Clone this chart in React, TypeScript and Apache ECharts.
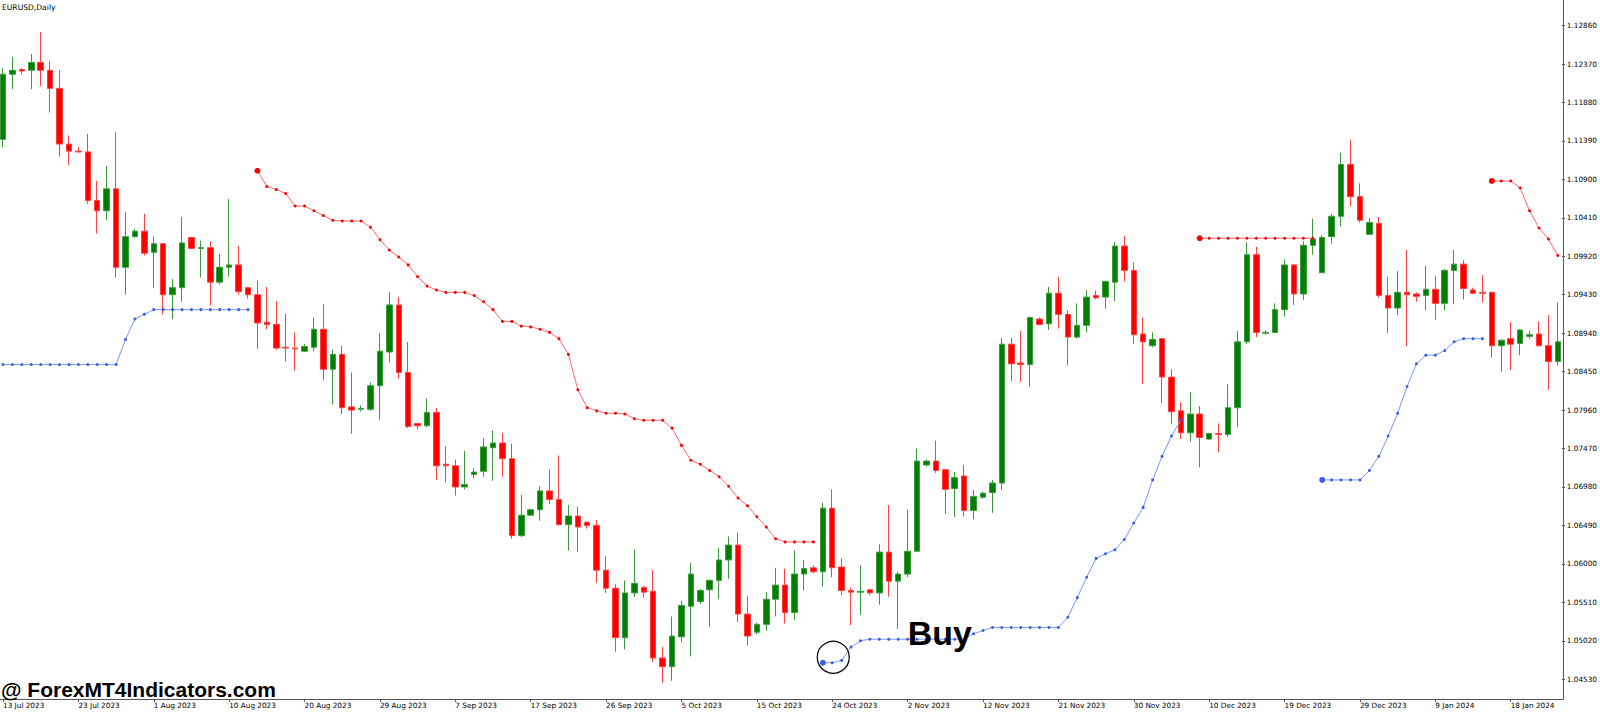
import React, { useEffect, useRef } from "react";
import * as echarts from "echarts";

// ---- x axis: one label every 8 daily bars ----
const dateLabels = [
  "13 Jul 2023", "23 Jul 2023", "1 Aug 2023", "10 Aug 2023", "20 Aug 2023", "29 Aug 2023",
  "7 Sep 2023", "17 Sep 2023", "26 Sep 2023", "5 Oct 2023", "15 Oct 2023", "24 Oct 2023",
  "2 Nov 2023", "12 Nov 2023", "21 Nov 2023", "30 Nov 2023", "10 Dec 2023", "19 Dec 2023",
  "29 Dec 2023", "9 Jan 2024", "18 Jan 2024",
];
const barsPerLabel = 8;

// ---- y axis tick labels ----
const priceTicks = [
  1.0453, 1.0502, 1.0551, 1.06, 1.0649, 1.0698, 1.0747, 1.0796, 1.0845,
  1.0894, 1.0943, 1.0992, 1.1041, 1.109, 1.1139, 1.1188, 1.1237, 1.1286,
];
const priceMin = 1.04278;
const priceMax = 1.13186;

// ---- EURUSD daily candles ----
const opens = [
  1.1141, 1.1224, 1.1230, 1.1229, 1.1239, 1.1229, 1.1206, 1.1135, 1.1126, 1.1125,
  1.1063, 1.1050, 1.1078, 1.0978, 1.1017, 1.1024, 1.0997, 1.1008, 1.0943, 1.0952,
  1.1016, 1.1002, 1.1003, 1.0959, 1.0978, 1.0981, 1.0952, 1.0943, 1.0908, 1.0905,
  1.0876, 1.0875, 1.0871, 1.0876, 1.0899, 1.0848, 1.0867, 1.0800, 1.0797, 1.0797,
  1.0827, 1.0870, 1.0930, 1.0844, 1.0779, 1.0776, 1.0793, 1.0727, 1.0725, 1.0698,
  1.0714, 1.0718, 1.0748, 1.0754, 1.0734, 1.0636, 1.0662, 1.0669, 1.0693, 1.0682,
  1.0650, 1.0661, 1.0653, 1.0649, 1.0592, 1.0569, 1.0506, 1.0563, 1.0570, 1.0565,
  1.0480, 1.0469, 1.0507, 1.0546, 1.0552, 1.0567, 1.0579, 1.0605, 1.0624, 1.0536,
  1.0513, 1.0523, 1.0555, 1.0573, 1.0538, 1.0587, 1.0595, 1.0590, 1.0671, 1.0596,
  1.0566, 1.0564, 1.0567, 1.0563, 1.0615, 1.0578, 1.0587, 1.0616, 1.0726, 1.0731,
  1.0720, 1.0696, 1.0712, 1.0668, 1.0685, 1.0691, 1.0703, 1.0880, 1.0856, 1.0854,
  1.0912, 1.0906, 1.0945, 1.0918, 1.0889, 1.0904, 1.0942, 1.0940, 1.0959, 1.1005,
  1.0974, 1.0893, 1.0878, 1.0887, 1.0838, 1.0795, 1.0767, 1.0791, 1.0759, 1.0766,
  1.0765, 1.0799, 1.0883, 1.0994, 1.0894, 1.0895, 1.0924, 1.0981, 1.0944, 1.1006,
  1.0971, 1.1017, 1.1043, 1.1109, 1.1068, 1.1020, 1.1034, 1.0942, 1.0926, 1.0946,
  1.0944, 1.0942, 1.0950, 1.0932, 1.0974, 1.0982, 1.0949, 1.0946, 1.0946, 1.0878,
  1.0887, 1.0881, 1.0890, 1.0893, 1.0878, 1.0858,
];
const closes = [
  1.1224, 1.1229, 1.1228, 1.1239, 1.1229, 1.1206, 1.1135, 1.1126, 1.1125, 1.1063,
  1.1050, 1.1078, 1.0978, 1.1017, 1.1024, 1.0996, 1.1008, 1.0943, 1.0952, 1.1009,
  1.1002, 1.1003, 1.0959, 1.0978, 1.0981, 1.0947, 1.0943, 1.0907, 1.0905, 1.0875,
  1.0875, 1.0874, 1.0877, 1.0899, 1.0848, 1.0867, 1.0799, 1.0796, 1.0798, 1.0827,
  1.0871, 1.0930, 1.0844, 1.0775, 1.0776, 1.0793, 1.0725, 1.0725, 1.0698, 1.0701,
  1.0717, 1.0749, 1.0754, 1.0734, 1.0636, 1.0662, 1.0669, 1.0693, 1.0682, 1.0650,
  1.0661, 1.0647, 1.0649, 1.0592, 1.0569, 1.0506, 1.0563, 1.0575, 1.0564, 1.0480,
  1.0469, 1.0508, 1.0547, 1.0587, 1.0566, 1.0579, 1.0605, 1.0624, 1.0536, 1.0508,
  1.0523, 1.0555, 1.0573, 1.0538, 1.0587, 1.0594, 1.0590, 1.0671, 1.0595, 1.0566,
  1.0564, 1.0565, 1.0563, 1.0615, 1.0578, 1.0587, 1.0616, 1.0731, 1.0731, 1.0719,
  1.0695, 1.0710, 1.0668, 1.0686, 1.0690, 1.0703, 1.0880, 1.0855, 1.0854, 1.0914,
  1.0905, 1.0945, 1.0918, 1.0889, 1.0904, 1.0940, 1.0939, 1.0960, 1.1005, 1.0974,
  1.0892, 1.0883, 1.0886, 1.0838, 1.0794, 1.0767, 1.0791, 1.0761, 1.0766, 1.0765,
  1.0799, 1.0883, 1.0994, 1.0895, 1.0895, 1.0924, 1.0981, 1.0944, 1.1006, 1.1014,
  1.1016, 1.1043, 1.1109, 1.1068, 1.1038, 1.1035, 1.0942, 1.0926, 1.0946, 1.0943,
  1.0941, 1.0950, 1.0932, 1.0974, 1.0982, 1.0951, 1.0945, 1.0945, 1.0878, 1.0885,
  1.0880, 1.0898, 1.0892, 1.0878, 1.0858, 1.0883,
];
const lows = [
  1.1131, 1.1205, 1.1224, 1.1205, 1.1209, 1.1175, 1.1119, 1.1108, 1.1124, 1.1059,
  1.1021, 1.1038, 1.0965, 1.0943, 1.1016, 1.0993, 1.0952, 1.0918, 1.0912, 1.0934,
  1.1001, 1.0965, 1.0929, 1.0956, 1.0966, 1.0943, 1.0938, 1.0874, 1.0899, 1.0873,
  1.0858, 1.0846, 1.0870, 1.0871, 1.0834, 1.0803, 1.0791, 1.0766, 1.0794, 1.0795,
  1.0783, 1.0857, 1.0836, 1.0773, 1.0772, 1.0774, 1.0707, 1.0704, 1.0687, 1.0695,
  1.0709, 1.0711, 1.0706, 1.0711, 1.0632, 1.0634, 1.0662, 1.0655, 1.0676, 1.0649,
  1.0617, 1.0615, 1.0645, 1.0576, 1.0563, 1.0488, 1.0491, 1.0558, 1.0557, 1.0475,
  1.0448, 1.0451, 1.0500, 1.0482, 1.0549, 1.0520, 1.0555, 1.0581, 1.0526, 1.0496,
  1.0510, 1.0515, 1.0533, 1.0524, 1.0529, 1.0566, 1.0588, 1.0571, 1.0583, 1.0560,
  1.0522, 1.0535, 1.0560, 1.0548, 1.0558, 1.0517, 1.0583, 1.0615, 1.0724, 1.0716,
  1.0664, 1.0660, 1.0660, 1.0657, 1.0683, 1.0665, 1.0694, 1.0833, 1.0832, 1.0826,
  1.0904, 1.0898, 1.0900, 1.0853, 1.0887, 1.0895, 1.0937, 1.0925, 1.0935, 1.0960,
  1.0880, 1.0829, 1.0876, 1.0805, 1.0778, 1.0759, 1.0756, 1.0723, 1.0758, 1.0742,
  1.0762, 1.0774, 1.0880, 1.0889, 1.0892, 1.0894, 1.0915, 1.0930, 1.0936, 1.0994,
  1.0971, 1.1008, 1.1030, 1.1056, 1.1035, 1.1020, 1.0939, 1.0894, 1.0917, 1.0877,
  1.0934, 1.0923, 1.0911, 1.0923, 1.0931, 1.0937, 1.0944, 1.0933, 1.0863, 1.0845,
  1.0847, 1.0866, 1.0887, 1.0877, 1.0822, 1.0853,
];
const highs = [
  1.1232, 1.1246, 1.1232, 1.1250, 1.1278, 1.1241, 1.1229, 1.1146, 1.1131, 1.1148,
  1.1088, 1.1107, 1.1150, 1.1048, 1.1027, 1.1046, 1.1017, 1.1009, 1.0963, 1.1042,
  1.1016, 1.1012, 1.1011, 1.0995, 1.1065, 1.1005, 1.0953, 1.0961, 1.0953, 1.0935,
  1.0919, 1.0895, 1.0880, 1.0914, 1.0931, 1.0873, 1.0878, 1.0844, 1.0802, 1.0831,
  1.0894, 1.0946, 1.0940, 1.0883, 1.0779, 1.0811, 1.0799, 1.0750, 1.0733, 1.0744,
  1.0722, 1.0760, 1.0770, 1.0767, 1.0753, 1.0688, 1.0670, 1.0699, 1.0720, 1.0738,
  1.0675, 1.0673, 1.0654, 1.0656, 1.0610, 1.0574, 1.0579, 1.0618, 1.0572, 1.0592,
  1.0494, 1.0533, 1.0553, 1.0601, 1.0568, 1.0580, 1.0620, 1.0635, 1.0640, 1.0559,
  1.0525, 1.0564, 1.0595, 1.0594, 1.0617, 1.0605, 1.0598, 1.0678, 1.0695, 1.0607,
  1.0570, 1.0598, 1.0568, 1.0625, 1.0675, 1.0590, 1.0669, 1.0747, 1.0733, 1.0757,
  1.0720, 1.0717, 1.0726, 1.0694, 1.0692, 1.0707, 1.0888, 1.0888, 1.0897, 1.0915,
  1.0914, 1.0953, 1.0966, 1.0923, 1.0932, 1.0949, 1.0948, 1.0961, 1.1010, 1.1018,
  1.0984, 1.0914, 1.0895, 1.0888, 1.0848, 1.0806, 1.0819, 1.0801, 1.0767, 1.0779,
  1.0829, 1.0897, 1.1010, 1.1004, 1.0898, 1.0932, 1.0988, 1.0982, 1.1011, 1.1040,
  1.1019, 1.1046, 1.1124, 1.1140, 1.1085, 1.1041, 1.1042, 1.0966, 1.0973, 1.1000,
  1.0946, 1.0980, 1.0967, 1.0976, 1.1000, 1.0987, 1.0952, 1.0968, 1.0947, 1.0886,
  1.0908, 1.0899, 1.0897, 1.0909, 1.0917, 1.0933,
];

// ---- trend indicator: red (down) and blue (up) segments ----
const redStart1 = 27;
const redBand1 = [
  1.1101, 1.1081, 1.1077, 1.1072, 1.1056, 1.1056, 1.1050, 1.1044, 1.1038, 1.1037,
  1.1037, 1.1037, 1.1029, 1.1013, 1.1000, 1.0991, 1.0981, 1.0966, 1.0954, 1.0949,
  1.0946, 1.0946, 1.0946, 1.0942, 1.0934, 1.0924, 1.0909, 1.0909, 1.0903, 1.0902,
  1.0899, 1.0895, 1.0887, 1.0867, 1.0822, 1.0799, 1.0795, 1.0792, 1.0792, 1.0791,
  1.0785, 1.0783, 1.0783, 1.0783, 1.0773, 1.0751, 1.0732, 1.0727, 1.0719, 1.0711,
  1.0699, 1.0684, 1.0674, 1.0660, 1.0647, 1.0632, 1.0628, 1.0628, 1.0628, 1.0628,
];
const redStart2 = 127;
const redBand2 = [
  1.1015, 1.1015, 1.1015, 1.1015, 1.1015, 1.1015, 1.1015, 1.1015, 1.1015, 1.1015,
  1.1015, 1.1015, 1.1015,
];
const redStart3 = 158;
const redBand3 = [1.1088, 1.1088, 1.1088, 1.1079, 1.1050, 1.1028, 1.1014, 1.0993];

// the first blue segment began before the visible window, so it has no start marker
const blueStart1 = 0;
const blueBand1 = [
  1.0854, 1.0854, 1.0854, 1.0854, 1.0854, 1.0854, 1.0854, 1.0854, 1.0854, 1.0854,
  1.0854, 1.0854, 1.0854, 1.0886, 1.0912, 1.0918, 1.0924, 1.0924, 1.0924, 1.0924,
  1.0924, 1.0924, 1.0924, 1.0924, 1.0924, 1.0924, 1.0924,
];
const blueStart2 = 87;
const blueBand2 = [
  1.0474, 1.0474, 1.0477, 1.0494, 1.0502, 1.0504, 1.0504, 1.0504, 1.0504, 1.0504,
  1.0504, 1.0504, 1.0504, 1.0504, 1.0504, 1.0504, 1.0511, 1.0515, 1.0519, 1.0519,
  1.0519, 1.0519, 1.0519, 1.0519, 1.0519, 1.0519, 1.0532, 1.0557, 1.0583, 1.0607,
  1.0613, 1.0618, 1.0631, 1.0652, 1.0672, 1.0707, 1.0737, 1.0763, 1.0783,
];
const blueStart3 = 140;
const blueBand3 = [
  1.0707, 1.0707, 1.0707, 1.0707, 1.0707, 1.0719, 1.0737, 1.0763, 1.0792, 1.0826,
  1.0855, 1.0866, 1.0866, 1.0872, 1.0883, 1.0887, 1.0887, 1.0887,
];

// annotation anchors (bar index, price)
const buySignalCircle = [88, 1.0481];
const buyTextAnchor = [96, 1.0512];

const AXIS_FONT = '"DejaVu Sans", Tahoma, sans-serif';

function buildLine(total: number, parts: [number, number[]][]) {
  const arr: (number | null)[] = new Array(total).fill(null);
  const starts = new Set<number>();
  parts.forEach(([start, vals]) => {
    if (start > 0) starts.add(start);
    vals.forEach((v, k) => {
      arr[start + k] = v;
    });
  });
  return { arr, starts };
}

export default function App() {
  const ref = useRef<HTMLDivElement>(null);

  useEffect(() => {
    document.body.style.margin = "0";
    document.body.style.overflow = "hidden";
    const el = ref.current!;
    const chart = echarts.init(el, null, { renderer: "svg" });

    const n = opens.length;
    const categories = opens.map((_, i) => String(i));
    const candles = opens.map((o, i) => [o, closes[i], lows[i], highs[i]]);
    const red = buildLine(n, [
      [redStart1, redBand1],
      [redStart2, redBand2],
      [redStart3, redBand3],
    ]);
    const blue = buildLine(n, [
      [blueStart1, blueBand1],
      [blueStart2, blueBand2],
      [blueStart3, blueBand3],
    ]);

    const gridW = 1559;
    const gridH = 699;

    chart.setOption({
      animation: false,
      backgroundColor: "#ffffff",
      grid: { left: 0, top: 0, width: gridW, height: gridH, containLabel: false },
      xAxis: {
        type: "category",
        data: categories,
        boundaryGap: false,
        axisLine: { show: false },
        splitLine: { show: false },
        axisTick: {
          show: true,
          interval: (i: number) => i % barsPerLabel === 0,
          length: 3,
          lineStyle: { color: "#555555", width: 1 },
        },
        axisLabel: {
          interval: (i: number) => i % barsPerLabel === 0,
          formatter: (_v: string, i: number) => dateLabels[i / barsPerLabel] ?? "",
          align: "left",
          margin: 3,
          fontSize: 7.3,
          fontFamily: AXIS_FONT,
          color: "#000000",
        },
      },
      yAxis: {
        type: "value",
        position: "right",
        offset: 4,
        min: priceMin,
        max: priceMax,
        axisLine: { show: false },
        splitLine: { show: false },
        axisTick: {
          show: true,
          customValues: priceTicks,
          length: 3,
          lineStyle: { color: "#555555", width: 1 },
        },
        axisLabel: {
          customValues: priceTicks,
          formatter: (v: number) => v.toFixed(5),
          margin: 5,
          fontSize: 7.3,
          fontFamily: AXIS_FONT,
          color: "#000000",
        },
      },
      series: [
        {
          type: "candlestick",
          data: candles,
          barWidth: 6,
          clip: false,
          silent: true,
          z: 2,
          itemStyle: {
            color: "#008000",
            color0: "#ff0000",
            borderColor: "#3d9a3d",
            borderColor0: "#ff4040",
            borderWidth: 1,
          },
          emphasis: { disabled: true },
        },
        {
          type: "line",
          data: red.arr,
          connectNulls: false,
          showAllSymbol: true,
          symbol: "circle",
          symbolSize: (_v: unknown, p: { dataIndex: number }) => (red.starts.has(p.dataIndex) ? 6 : 3),
          itemStyle: { color: "#ff0000" },
          lineStyle: { color: "#ff6a6a", width: 1 },
          silent: true,
          z: 5,
          emphasis: { disabled: true },
        },
        {
          type: "line",
          data: blue.arr,
          connectNulls: false,
          showAllSymbol: true,
          symbol: "circle",
          symbolSize: (_v: unknown, p: { dataIndex: number }) => (blue.starts.has(p.dataIndex) ? 6 : 3),
          itemStyle: { color: "#3a5ee6" },
          lineStyle: { color: "#7b97f4", width: 1 },
          silent: true,
          z: 5,
          emphasis: { disabled: true },
        },
      ],
    });

    const c = chart.convertToPixel({ gridIndex: 0 }, buySignalCircle) as number[];
    const b = chart.convertToPixel({ gridIndex: 0 }, buyTextAnchor) as number[];
    const frameX = gridW + 4.5;
    const frameY = gridH + 0.5;

    chart.setOption({
      graphic: [
        {
          type: "line",
          silent: true,
          shape: { x1: 0, y1: frameY, x2: frameX, y2: frameY },
          style: { stroke: "#555555", lineWidth: 1 },
          z: 10,
        },
        {
          type: "line",
          silent: true,
          shape: { x1: frameX, y1: 0, x2: frameX, y2: frameY },
          style: { stroke: "#555555", lineWidth: 1 },
          z: 10,
        },
        {
          type: "text",
          silent: true,
          x: 2,
          y: 7,
          style: {
            text: "EURUSD,Daily",
            fill: "#000000",
            font: `7.6px ${AXIS_FONT}`,
            textAlign: "left",
            textVerticalAlign: "middle",
            align: "left",
            verticalAlign: "middle",
          },
          z: 10,
        },
        {
          type: "circle",
          silent: true,
          shape: { cx: c[0] + 1, cy: c[1], r: 16 },
          style: { fill: "none", stroke: "#000000", lineWidth: 1.2 },
          z: 10,
        },
        {
          type: "text",
          silent: true,
          x: b[0],
          y: b[1],
          style: {
            text: "Buy",
            fill: "#000000",
            font: 'bold 34px "Liberation Sans", Arial, sans-serif',
            textAlign: "left",
            textVerticalAlign: "middle",
            align: "left",
            verticalAlign: "middle",
          },
          z: 10,
        },
        {
          type: "text",
          silent: true,
          x: 1,
          y: 689.5,
          style: {
            text: "@ ForexMT4Indicators.com",
            fill: "#000000",
            font: 'bold 21px "Liberation Sans", Arial, sans-serif',
            textAlign: "left",
            textVerticalAlign: "middle",
            align: "left",
            verticalAlign: "middle",
          },
          z: 10,
        },
      ],
    });

    return () => chart.dispose();
  }, []);

  return <div ref={ref} style={{ width: 1600, height: 713, background: "#ffffff" }} />;
}
